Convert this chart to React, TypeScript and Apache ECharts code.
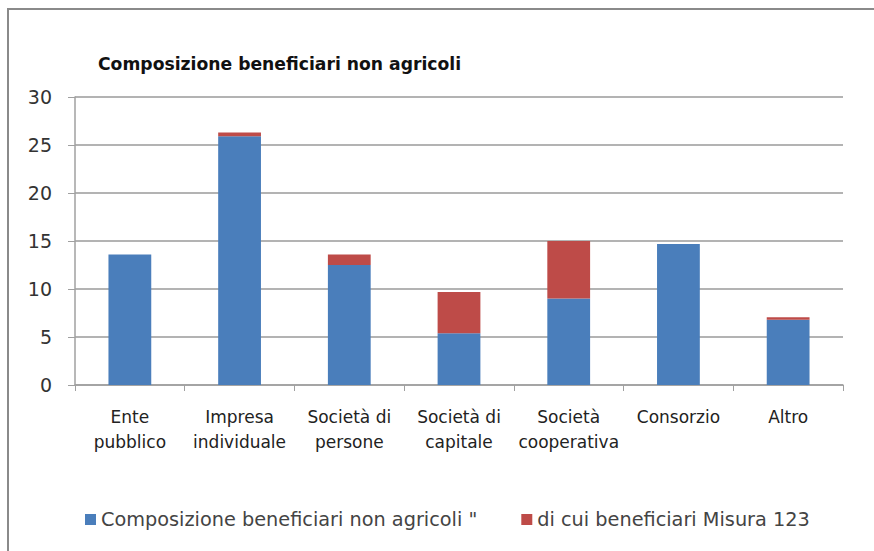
import React, { useEffect, useRef } from "react";
import * as echarts from "echarts";

const categories = [
  "Ente\npubblico",
  "Impresa\nindividuale",
  "Società di\npersone",
  "Società di\ncapitale",
  "Società\ncooperativa",
  "Consorzio",
  "Altro",
];
const seriesNames = [
  "Composizione beneficiari non agricoli \"",
  "di cui beneficiari Misura 123",
];
const blueValues = [13.6, 25.9, 12.5, 5.4, 9.0, 14.7, 6.8];
const redValues = [0, 0.4, 1.1, 4.3, 6.0, 0, 0.25];
const yTicks = { min: 0, max: 30, interval: 5 };
const titleText = "Composizione beneficiari non agricoli";

const FONT = "'DejaVu Sans', 'Noto Sans', sans-serif";

export default function App() {
  const ref = useRef<HTMLDivElement>(null);
  useEffect(() => {
    document.body.style.margin = "0";
    const chart = echarts.init(ref.current!, null, { renderer: "svg" });
    chart.setOption({
      animation: false,
      backgroundColor: "#ffffff",
      title: {
        text: titleText,
        left: 93,
        top: 50,
        textStyle: { fontFamily: FONT, fontWeight: "bold", fontSize: 17.2, color: "#111" },
      },
      graphic: [
        { type: "line", shape: { x1: 7, y1: 9, x2: 874, y2: 9 }, style: { stroke: "#8a8a8a", lineWidth: 2 } },
        { type: "line", shape: { x1: 8, y1: 9, x2: 8, y2: 551 }, style: { stroke: "#8a8a8a", lineWidth: 2 } },
      ],
      legend: {
        bottom: 17,
        left: 80,
        itemWidth: 11,
        itemHeight: 11,
        itemGap: 44,
        icon: "rect",
        textStyle: { fontFamily: FONT, fontSize: 19.3, color: "#444" },
        data: seriesNames,
      },
      grid: { left: 75, right: 31, top: 97, bottom: 166 },
      xAxis: {
        type: "category",
        data: categories,
        axisLine: { lineStyle: { color: "#a0a0a0", width: 1.5 } },
        axisTick: { show: true, length: 6, lineStyle: { color: "#a0a0a0" } },
        axisLabel: {
          fontFamily: FONT,
          fontSize: 17,
          color: "#222",
          lineHeight: 25,
          margin: 19,
          interval: 0,
        },
      },
      yAxis: {
        type: "value",
        min: yTicks.min,
        max: yTicks.max,
        interval: yTicks.interval,
        axisLine: { show: true, lineStyle: { color: "#a0a0a0", width: 1.5 } },
        axisTick: { show: true, length: 7, lineStyle: { color: "#a0a0a0" } },
        splitLine: { lineStyle: { color: "#9a9a9a", width: 1.5 } },
        axisLabel: { fontFamily: FONT, fontSize: 19, color: "#333", margin: 23 },
      },
      series: [
        {
          name: seriesNames[0],
          type: "bar",
          stack: "s",
          data: blueValues,
          barWidth: "39%",
          itemStyle: { color: "#4A7EBB" },
        },
        {
          name: seriesNames[1],
          type: "bar",
          stack: "s",
          data: redValues,
          barWidth: "39%",
          itemStyle: { color: "#BE4B48" },
        },
      ],
    });
    return () => chart.dispose();
  }, []);
  return <div ref={ref} style={{ width: 874, height: 551, position: "absolute", left: 0, top: 0 }} />;
}
